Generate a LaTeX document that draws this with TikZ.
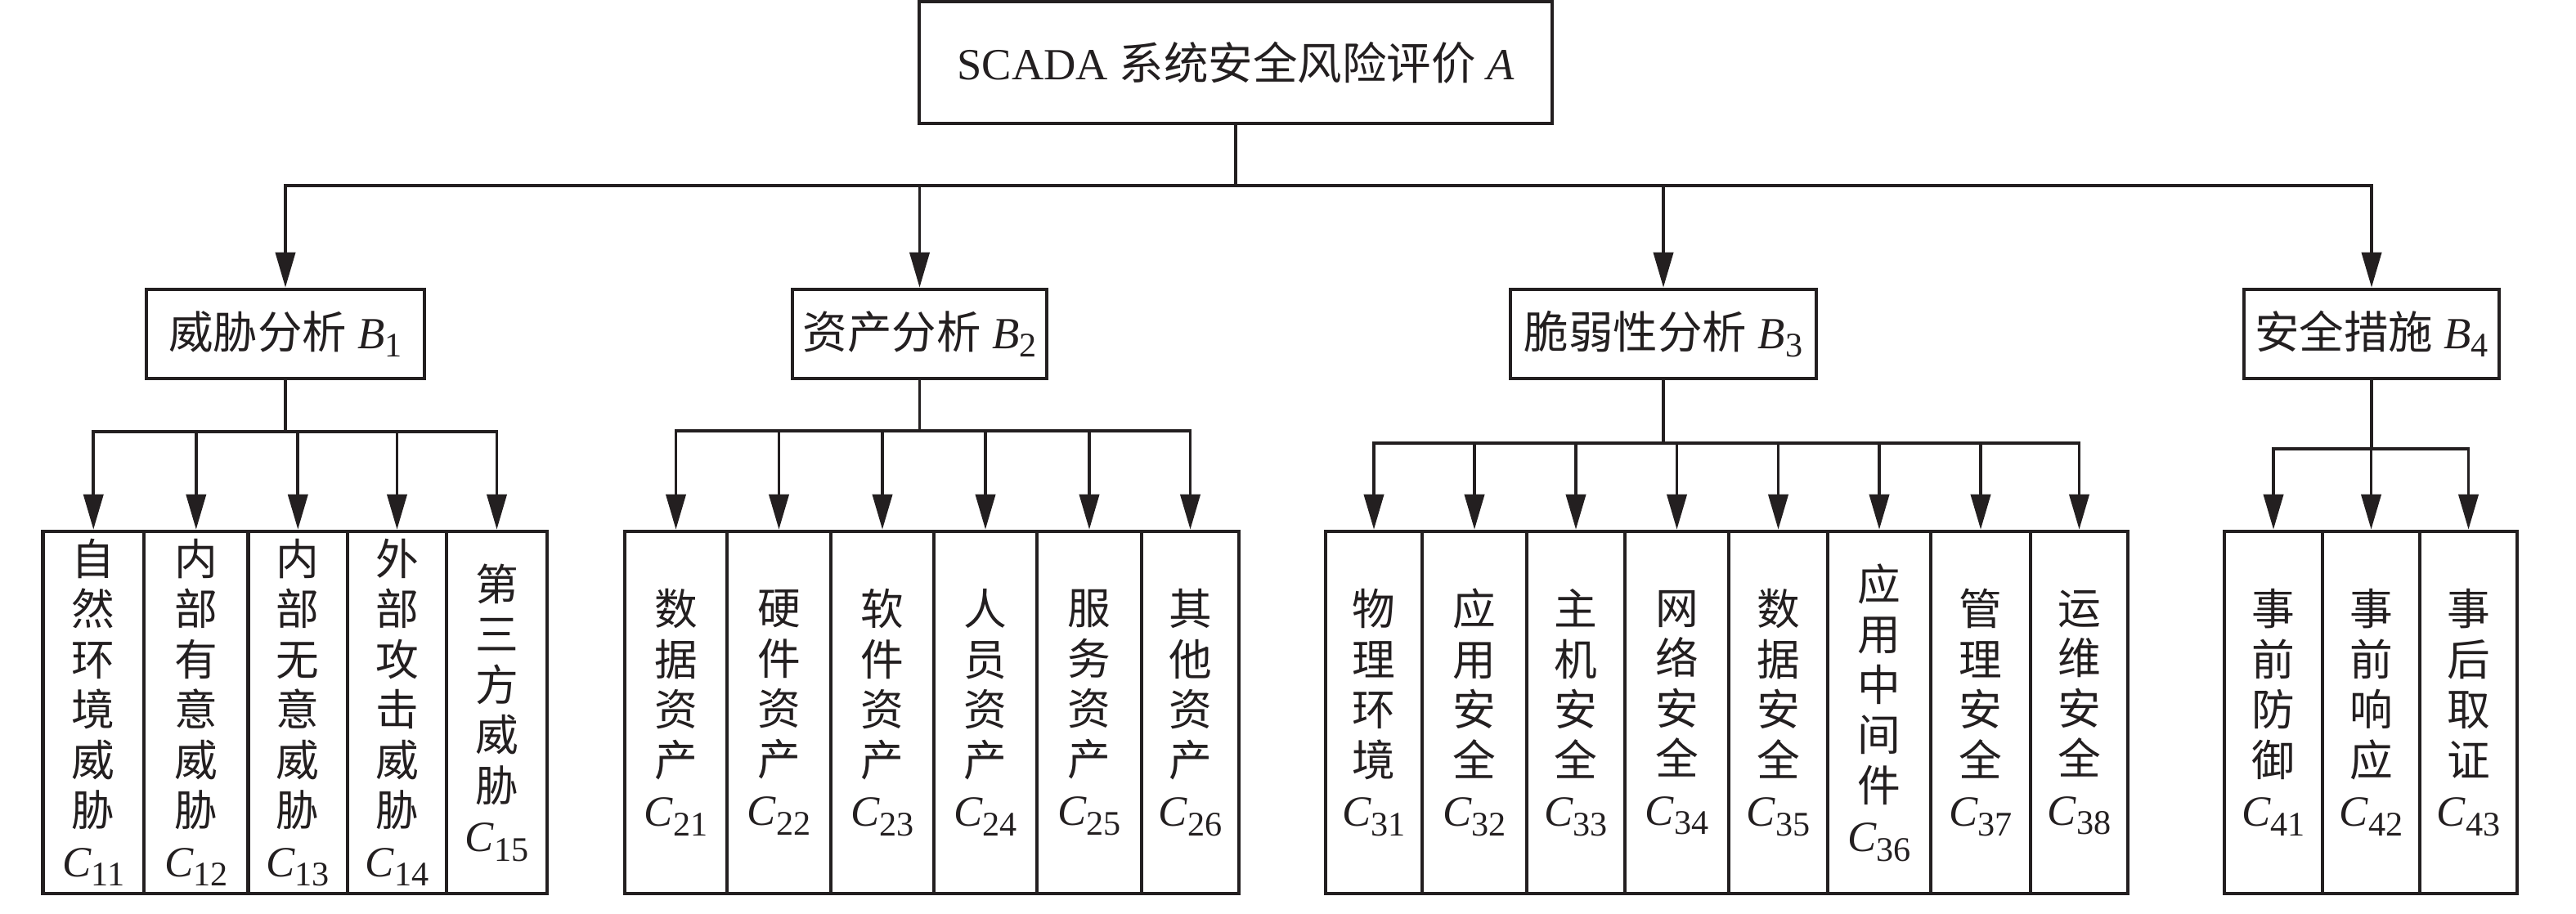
\documentclass[tikz,border=0pt]{standalone}
\usepackage{fontspec}
\setmainfont{Liberation Serif}
\newfontfamily\cjk{Noto Sans CJK SC}
\usetikzlibrary{arrows.meta}
\definecolor{ink}{HTML}{231F20}
\newcommand{\lowidx}[1]{\raisebox{-0.4ex}{\rmfamily\upshape\fontsize{12}{12}\selectfont #1}}
\newcommand{\cC}[1]{{\rmfamily\itshape C}\lowidx{#1}}
\begin{document}
\begin{tikzpicture}[
  every node/.style={text=ink},
  box/.style={draw=ink, line width=1.3pt, inner sep=0pt, align=center},
  topbox/.style={box, font=\fontsize{15.5}{18}\selectfont},
  bbox/.style={topbox, minimum height=1.09cm},
  cbox/.style={box, minimum height=4.43cm, font=\cjk\fontsize{15}{17.5}\selectfont},
  conn/.style={draw=ink, line width=1.1pt, -{Triangle[length=0.43cm,width=0.24cm]}}
]
\useasboundingbox (0,0) rectangle (31.5,-11.18);
% top
\node[topbox, minimum width=7.74cm, minimum height=1.49cm] (A) at (15.11,-0.765)
  {SCADA {\cjk 系统安全风险评价} \textit{A}};
% level B
\node[bbox, minimum width=3.40cm] (B1) at (3.49,-4.085) {{\cjk 威胁分析} \textit{B}\lowidx{1}};
\node[bbox, minimum width=3.11cm] (B2) at (11.245,-4.085) {{\cjk 资产分析} \textit{B}\lowidx{2}};
\node[bbox, minimum width=3.74cm] (B3) at (20.34,-4.085) {{\cjk 脆弱性分析} \textit{B}\lowidx{3}};
\node[bbox, minimum width=3.12cm] (B4) at (29.00,-4.085) {{\cjk 安全措施} \textit{B}\lowidx{4}};
% level C, group 1
\node[cbox, minimum width=1.235cm] (C11) at (1.1425,-8.715) {自\\然\\环\\境\\威\\胁\\\cC{11}};
\node[cbox, minimum width=1.276cm] (C12) at (2.398,-8.715) {内\\部\\有\\意\\威\\胁\\\cC{12}};
\node[cbox, minimum width=1.214cm] (C13) at (3.643,-8.715) {内\\部\\无\\意\\威\\胁\\\cC{13}};
\node[cbox, minimum width=1.21cm] (C14) at (4.855,-8.715) {外\\部\\攻\\击\\威\\胁\\\cC{14}};
\node[cbox, minimum width=1.23cm] (C15) at (6.075,-8.715) {第\\三\\方\\威\\胁\\\cC{15}};
% group 2
\node[cbox, minimum width=1.25cm] (C21) at (8.265,-8.715) {数\\据\\资\\产\\\cC{21}};
\node[cbox, minimum width=1.27cm] (C22) at (9.525,-8.715) {硬\\件\\资\\产\\\cC{22}};
\node[cbox, minimum width=1.26cm] (C23) at (10.79,-8.715) {软\\件\\资\\产\\\cC{23}};
\node[cbox, minimum width=1.26cm] (C24) at (12.05,-8.715) {人\\员\\资\\产\\\cC{24}};
\node[cbox, minimum width=1.28cm] (C25) at (13.32,-8.715) {服\\务\\资\\产\\\cC{25}};
\node[cbox, minimum width=1.19cm] (C26) at (14.555,-8.715) {其\\他\\资\\产\\\cC{26}};
% group 3
\node[cbox, minimum width=1.18cm] (C31) at (16.80,-8.715) {物\\理\\环\\境\\\cC{31}};
\node[cbox, minimum width=1.28cm] (C32) at (18.03,-8.715) {应\\用\\安\\全\\\cC{32}};
\node[cbox, minimum width=1.20cm] (C33) at (19.27,-8.715) {主\\机\\安\\全\\\cC{33}};
\node[cbox, minimum width=1.27cm] (C34) at (20.505,-8.715) {网\\络\\安\\全\\\cC{34}};
\node[cbox, minimum width=1.21cm] (C35) at (21.745,-8.715) {数\\据\\安\\全\\\cC{35}};
\node[cbox, minimum width=1.26cm] (C36) at (22.98,-8.715) {应\\用\\中\\间\\件\\\cC{36}};
\node[cbox, minimum width=1.22cm] (C37) at (24.22,-8.715) {管\\理\\安\\全\\\cC{37}};
\node[cbox, minimum width=1.19cm] (C38) at (25.425,-8.715) {运\\维\\安\\全\\\cC{38}};
% group 4
\node[cbox, minimum width=1.20cm] (C41) at (27.80,-8.715) {事\\前\\防\\御\\\cC{41}};
\node[cbox, minimum width=1.19cm] (C42) at (28.995,-8.715) {事\\前\\响\\应\\\cC{42}};
\node[cbox, minimum width=1.19cm] (C43) at (30.185,-8.715) {事\\后\\取\\证\\\cC{43}};
% connectors A -> B
\foreach \b in {B1,B2,B3,B4}
  \draw[conn] (A.south) -- ++(0,-0.74) -| (\b.north);
% B -> C
\foreach \c in {C11,C12,C13,C14,C15}
  \draw[conn] (B1.south) -- ++(0,-0.63) -| (\c.north);
\foreach \c in {C21,C22,C23,C24,C25,C26}
  \draw[conn] (B2.south) -- ++(0,-0.62) -| (\c.north);
\foreach \c in {C31,C32,C33,C34,C35,C36,C37,C38}
  \draw[conn] (B3.south) -- ++(0,-0.77) -| (\c.north);
\foreach \c in {C41,C42,C43}
  \draw[conn] (B4.south) -- ++(0,-0.84) -| (\c.north);
\end{tikzpicture}
\end{document}
